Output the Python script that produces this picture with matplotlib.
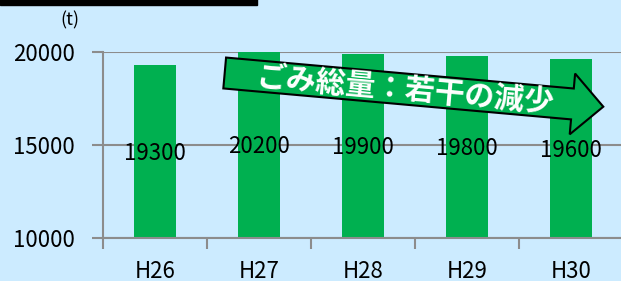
import matplotlib
matplotlib.use("Agg")
import matplotlib.pyplot as plt
import matplotlib.patches as mpatches
import matplotlib.transforms as mtransforms
import numpy as np

plt.rcParams['font.family'] = ['Noto Sans CJK JP', 'DejaVu Sans']

# データ
years = ["H26", "H27", "H28", "H29", "H30"]
totals = [19300, 20200, 19900, 19800, 19600]
y_ticks = [10000, 15000, 20000]
unit_label = "(t)"
arrow_label = "ごみ総量：若干の減少"

bg = "#CCEBFF"
green = "#00B050"
grid_gray = "#8C8C8C"

fig = plt.figure(figsize=(6.21, 2.81), dpi=100)
fig.patch.set_facecolor(bg)
ax = fig.add_axes([103 / 621, 43 / 281, 520 / 621, 186 / 281])
ax.set_facecolor(bg)

x = np.arange(len(years))
ax.bar(x, totals, width=0.4, color=green, zorder=2)

ax.set_xlim(-0.5, len(years) - 0.5)
ax.set_ylim(y_ticks[0], y_ticks[-1])

# 軸・目盛り
ax.set_yticks(y_ticks)
ax.set_yticklabels([str(v) for v in y_ticks], fontsize=16)
ax.tick_params(axis="y", length=8, width=1.5, color=grid_gray, pad=12)
ax.set_xticks(x)
ax.set_xticklabels(years, fontsize=16)
ax.set_xticks(np.arange(-0.5, len(years)), minor=True)
ax.tick_params(axis="x", which="major", length=0, pad=16)
ax.tick_params(axis="x", which="minor", length=8, width=1.5, color=grid_gray)
ax.grid(axis="y", color=grid_gray, linewidth=1.5, zorder=1)
for side in ["top", "right"]:
    ax.spines[side].set_visible(False)
for side in ["left", "bottom"]:
    ax.spines[side].set_color(grid_gray)
    ax.spines[side].set_linewidth(1.5)

# データラベル
for xi, v in zip(x, totals):
    ax.text(xi, (y_ticks[0] + min(v, y_ticks[-1])) / 2 - 100, str(v),
            ha="center", va="center", fontsize=16, color="black", zorder=3)

ax.text(-0.063, 1.17, unit_label, transform=ax.transAxes, ha="center",
        va="center", fontsize=13)

# 上部の黒い帯
fig.patches.append(mpatches.Rectangle((0, 1 - 4.5 / 281), 257 / 621, 5 / 281,
                                      transform=fig.transFigure,
                                      color="black", zorder=5))

# 矢印 (ピクセル座標)
px = mtransforms.Affine2D().scale(1 / 100) + fig.dpi_scale_trans
tail = (224.7, 281 - 73)
tip = (603.3, 281 - 106.7)
dx, dy = tip[0] - tail[0], tip[1] - tail[1]
arrow = mpatches.FancyArrow(tail[0], tail[1], dx, dy, width=31,
                            head_width=61, head_length=31,
                            length_includes_head=True,
                            facecolor=green, edgecolor="black",
                            linewidth=1.5, transform=px, zorder=6)
fig.patches.append(arrow)
ang = np.degrees(np.arctan2(dy, dx))
t = 0.476
fig.text(tail[0] + t * dx, tail[1] + t * dy - 1, arrow_label, transform=px,
         rotation=ang, rotation_mode="anchor", ha="center", va="center",
         fontsize=21.5, fontweight="bold", color="white", zorder=7)

fig.savefig("out.png", dpi=100, facecolor=bg)
